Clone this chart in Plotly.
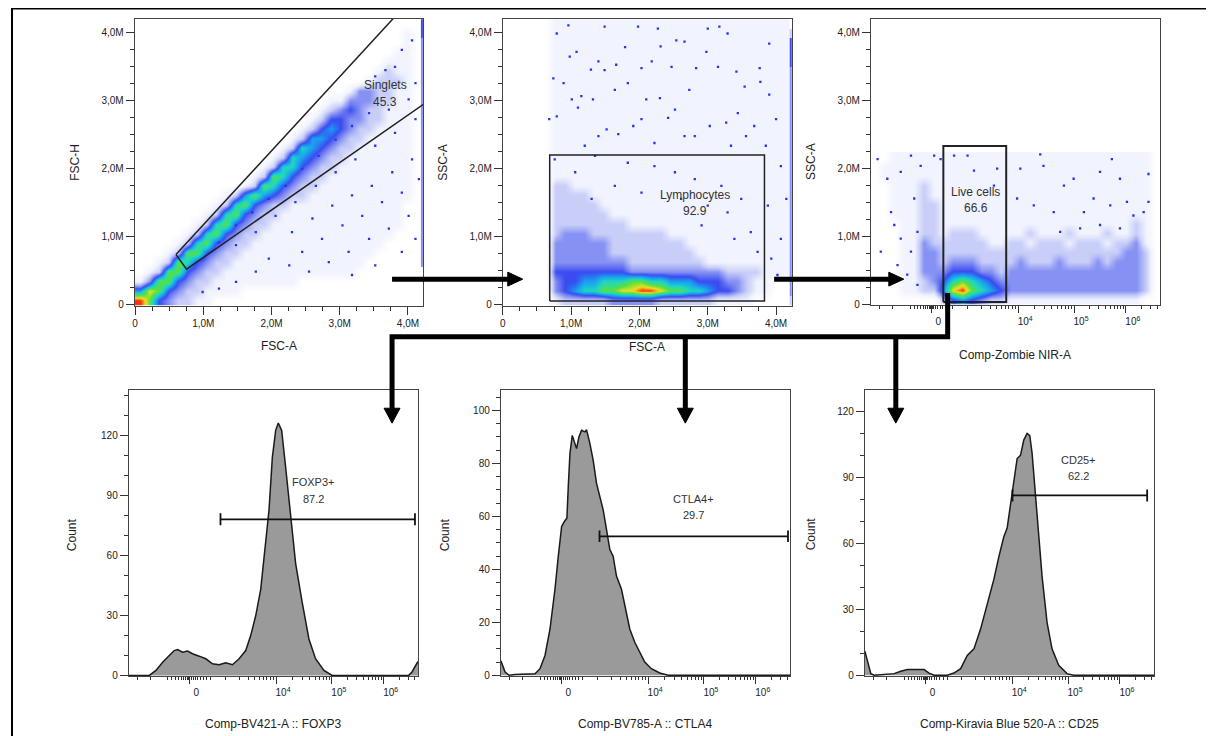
import plotly.graph_objects as go

# the page puts the figure 8px in from the top-left corner of the window
OX, OY = 8, 8
W, H = 1206, 728

# ---- values ----
# pseudocolour dot plots as density grids: one string per row, bottom row first,
# one digit per cell, 0 = no events ... 9 = densest (red)
fsc_rows = [
    "97432211",
    "58743221111",
    "13774322111111111",
    "01277432211111111111111",
    "001276432211111111111111",
    "0001277432211111111111111",
    "00001267432211111111111111",
    "000001267432211111111111111",
    "0000001267432211111111111111",
    "0000000126743221111111111111",
    "0000000012674322111111111111",
    "00000000012575432211111111111",
    "00000000000127643221111111111",
    "00000000000012764322111111111",
    "00000000000001266432211111111",
    "00000000000000126543221111111",
    "00000000000000012654322111111",
    "00000000000000001255432211111",
    "00000000000000000124543221111",
    "00000000000000000012443322111",
    "00000000000000000001234322111",
    "00000000000000000000113332211",
    "00000000000000000000001332211",
    "00000000000000000000000012221",
    "00000000000000000000000001211",
    "00000000000000000000000000111",
    "00000000000000000000000000011",
    "00000000000000000000000000001",
    "00000000000000000000000000001",
    "0",
]
fsc_edge = "000033333333333333333333333344"   # events piled up at the FSC-A maximum
# isolated events in the sparse parts (millions)
fsc_dots_x = [1.48, 1.77, 2.06, 2.35, 2.65, 2.94, 3.23, 3.52, 3.81, 4.11, 2.30, 2.60,
              2.89, 3.18, 3.47, 3.77, 4.06, 2.45, 2.74, 3.04, 3.33, 3.62, 3.91, 4.16,
              1.96, 2.26, 2.55, 2.84, 3.13, 3.43, 3.72, 4.01, 1.77, 1.48, 1.23, 0.99,
              3.18, 3.52, 3.91, 4.11, 3.81, 3.91, 4.06, 3.67, 3.52, 4.01, 4.11, 3.18,
              3.43, 3.72, 2.94, 2.69, 2.45, 2.21, 1.96, 1.72, 1.48, 1.23]
fsc_dots_y = [0.88, 1.07, 1.31, 1.51, 1.75, 1.95, 2.14, 2.34, 2.53, 2.73, 1.07, 1.27,
              1.46, 1.61, 1.75, 1.95, 2.14, 0.78, 0.97, 1.17, 1.31, 1.51, 1.65, 1.85,
              0.68, 0.58, 0.49, 0.63, 0.78, 0.97, 1.12, 1.31, 0.49, 0.34, 0.24, 0.19,
              0.44, 0.58, 0.78, 0.97, 3.50, 3.75, 3.89, 3.45, 3.36, 3.02, 3.26, 2.63,
              2.82, 2.87, 2.43, 2.19, 2.00, 1.75, 1.56, 1.36, 1.17, 0.92]

ssc_rows = [
    "00000122222333332222221111",
    "0000034566778899877665443211",
    "0000034455666776655544433211",
    "000004444444433333333332222111",
    "000003333333322222222111111111",
    "000003333332222222221111111111",
    "000003333332222222211111111111",
    "000002333222222221111111111111",
    "000002222222211111111111111111",
    "000002222221111111111111111111",
    "000002222211111111111111111111",
    "000002222111111111111111111111",
    "000002211111111111111111111111",
] + ["000001111111111111111111111111"] * 17
ssc_edge = "233333333333333333333333344420"
ssc_dots_x = [0.96, 0.79, 1.49, 1.98, 2.27, 3.00, 3.17, 3.29, 3.90, 1.08, 0.98, 1.79,
              2.31, 2.54, 2.66, 2.98, 2.03, 1.49, 1.40, 1.29, 1.66, 2.18, 2.47, 2.83,
              3.15, 3.42, 3.76, 0.74, 0.89, 0.68, 0.79, 1.01, 1.15, 1.10, 1.32, 1.40,
              1.52, 1.69, 1.91, 2.03, 2.10, 2.30, 2.42, 2.52, 2.66, 2.81, 3.03, 3.27,
              3.44, 3.56, 3.77, 3.90, 3.68, 4.00, 4.07, 4.15, 3.93, 4.02, 1.83, 1.64,
              2.73, 3.54, 1.20, 2.22, 3.34, 3.85, 4.07, 3.88, 0.76, 1.06, 1.35, 1.83,
              2.22, 2.52, 2.81, 3.20, 3.49, 3.29, 3.63, 3.00, 2.61, 2.03, 1.64, 1.30,
              2.91, 3.39, 3.73]
ssc_dots_y = [4.11, 3.99, 4.09, 4.09, 4.06, 4.06, 4.09, 3.99, 3.84, 3.72, 3.65, 3.79,
              3.80, 3.89, 3.87, 3.72, 3.48, 3.45, 3.58, 3.46, 3.53, 3.58, 3.50, 3.48,
              3.50, 3.43, 3.48, 3.33, 3.26, 2.73, 2.77, 3.02, 3.07, 2.90, 3.02, 2.48,
              2.58, 2.51, 2.63, 2.73, 3.02, 3.04, 2.75, 2.87, 2.48, 2.48, 2.63, 2.68,
              2.82, 2.48, 3.28, 3.09, 2.63, 2.73, 0.97, 1.56, 0.68, 0.44, 3.26, 3.16,
              3.16, 3.21, 2.34, 2.38, 2.34, 2.34, 2.04, 1.46, 2.14, 1.95, 2.19, 2.09,
              2.04, 1.95, 1.85, 1.75, 1.56, 1.36, 1.07, 1.46, 1.56, 1.65, 1.75, 1.56,
              1.17, 0.97, 0.78]

live_rows = [
    "000000024543221111111111111100",
    "000112258976543333333333333320",
    "000112346765433333333333333320",
    "000113334443323333333333333320",
    "000113323332222322232223233320",
    "000113322222222222222222223320",
    "000113222222112212221222122310",
    "000112212221111121112111211210",
    "000112211111111111111111111210",
    "001112211111111111111111111110",
    "001112211111111111111111111110",
    "001112111111111111111111111110",
    "001112111111111111111111111110",
    "011111111111111111111111111110",
    "011111111111111111111111111110",
    "001111111111111111111111111110",
]
live_dots_x = [1.39, 1.57, 1.82, 2.01, 2.07, 1.70, 1.45, 1.76, 1.94, 2.13, 1.82, 1.64,
               2.19, 2.44, 2.56, 2.13, 2.01, 2.81, 3.06, 3.18, 3.61, 3.55, 4.04, 4.41,
               4.47, 4.85, 5.03, 5.52, 5.74, 5.89, 6.42, 6.42, 5.40, 5.71, 4.29, 4.66,
               5.22, 3.98, 6.02, 6.14, 6.33, 4.78, 5.15, 5.52, 5.89]
live_dots_y = [2.14, 1.85, 1.95, 2.19, 1.56, 1.17, 0.78, 0.58, 0.44, 0.29, 0.97, 1.36,
               2.04, 2.19, 2.14, 1.07, 0.78, 2.19, 2.19, 1.97, 2.00, 1.75, 2.00, 2.21,
               2.04, 1.75, 1.85, 1.95, 2.14, 1.85, 1.92, 1.51, 1.56, 1.46, 1.46, 1.36,
               1.36, 1.56, 1.51, 1.31, 1.36, 1.07, 1.12, 1.17, 1.12]

# gates (FSC/SSC in events, biex axes in display decades)
singlet_x = [0.60e6, 4.5e6, 4.5e6, 0.755e6, 0.60e6]
singlet_y = [0.74e6, 4.99e6, 3.14e6, 0.525e6, 0.74e6]
lymph_x = [0.687e6, 3.83e6, 3.83e6, 0.687e6, 0.687e6]
lymph_y = [0.058e6, 0.058e6, 2.204e6, 2.204e6, 0.058e6]
live_x = [2.611, 3.778, 3.778, 2.611, 2.611]
live_y = [0.04e6, 0.04e6, 2.33e6, 2.33e6, 0.04e6]

# histograms: x in display decades of the biex axis, y = count
foxp3_x = [1.265, 1.648, 1.771, 1.895, 2.018, 2.11, 2.172, 2.265, 2.358, 2.45, 2.574,
           2.697, 2.821, 2.944, 3.067, 3.191, 3.314, 3.438, 3.53, 3.623, 3.716, 3.808,
           3.87, 3.932, 3.994, 4.043, 4.105, 4.179, 4.271, 4.364, 4.487, 4.611, 4.734,
           4.889, 5.043, 6.463, 6.525, 6.617, 6.636]
foxp3_y = [0, 0, 2.5, 6.6, 9.9, 12.4, 12.9, 11.6, 12.2, 10.8, 9.6, 8.3, 5.8, 5.3, 6.3,
           5.3, 8.3, 12.4, 19.9, 29.8, 43.0, 66.2, 82.7, 109, 122.5, 126.2, 122.5, 104,
           79, 56, 36.4, 18.2, 8.3, 2.5, 0, 0, 1.7, 6.3, 7.0]
ctla4_x = [1.265, 1.271, 1.345, 1.419, 1.53, 1.901, 1.993, 2.086, 2.179, 2.271, 2.333,
           2.395, 2.444, 2.493, 2.518, 2.549, 2.592, 2.629, 2.672, 2.716, 2.765, 2.827,
           2.858, 2.92, 2.981, 3.043, 3.105, 3.166, 3.228, 3.29, 3.351, 3.413, 3.506,
           3.58, 3.66, 3.753, 3.845, 3.938, 4.061, 4.216, 4.37, 6.636]
ctla4_y = [5.5, 5.25, 1.25, 0, 0.3, 0.6, 2.5, 7.5, 17.5, 32.5, 45, 56.2, 58, 59.4, 71.2,
           83.7, 90.6, 88.1, 85.6, 90, 92.5, 91.9, 92.7, 87.5, 81.2, 72.5, 66.9, 62.5,
           55, 47.5, 45, 37.5, 32.5, 25, 17.5, 12.5, 8.75, 5, 2.5, 0.9, 0, 0]
cd25_x = [1.265, 1.271, 1.327, 1.376, 1.438, 1.808, 1.932, 2.055, 2.364, 2.456, 2.55,
          2.796, 2.919, 3.043, 3.166, 3.29, 3.413, 3.537, 3.66, 3.753, 3.845, 3.907,
          3.969, 4.03, 4.092, 4.154, 4.215, 4.277, 4.327, 4.37, 4.432, 4.493, 4.555,
          4.648, 4.74, 4.864, 5.018, 5.14, 6.636]
cd25_y = [11, 10.5, 6, 0.75, 0, 0.75, 1.8, 2.6, 2.6, 1.0, 0, 0, 1, 3, 9, 12, 21, 33,
          43.6, 54, 63, 67, 78, 90, 98.6, 100, 107, 110, 109, 101, 83, 65, 45, 24, 12,
          4.5, 0.75, 0, 0]

# range gates on the histograms: (start, end, count level)
foxp3_gate = (2.969, 6.58, 78)
ctla4_gate = (3.098, 6.598, 52.5)
cd25_gate = (4.006, 6.506, 81.8)

# ---- styling ----
FONT = "Liberation Sans, Arial, sans-serif"
LEVELS = ['#ffffff', '#f1f3fe', '#c8cef8', '#8591f3', '#3a4cf0',
          '#1aa0f0', '#20d8c0', '#58e040', '#f0e020', '#ff3010']
CSCALE = [[i / 9, c] for i, c in enumerate(LEVELS)]
TICKFONT = dict(family=FONT, size=10, color='#222')
DOT = dict(size=2.3, color='#2435f0', symbol='square', line=dict(width=0))


def grid(rows, n=30):
    return [[int(ch) for ch in r.ljust(n, '0')[:n]] for r in rows]


def dom_x(a, b):
    return [(a - OX) / W, (b - OX) / W]


def dom_y(top, bottom):
    return [1 - (bottom - OY) / H, 1 - (top - OY) / H]


M_TICKS = [0, 1e6, 2e6, 3e6, 4e6]
M_TEXT = ['0', '1,0M', '2,0M', '3,0M', '4,0M']
M_MINOR = [k * 0.25e6 for k in range(17)]

BIEX_MAJOR = [2.389, 4.0, 5.037, 6.0]
BIEX_TEXT = ['0', '10<sup>4</sup>', '10<sup>5</sup>', '10<sup>6</sup>']
BIEX_MINOR = [1.42, 1.667, 1.994, 2.068, 2.13, 2.191, 2.241, 2.284, 2.321, 2.352, 2.377,
              2.401, 2.426, 2.463, 2.506, 2.549, 2.599, 2.654, 2.716, 2.79, 3.056, 3.321,
              3.488, 3.599, 3.685, 3.759, 3.827, 3.889, 3.951,
              4.312, 4.495, 4.624, 4.725, 4.807, 4.876, 4.937, 4.99,
              5.327, 5.496, 5.617, 5.71, 5.786, 5.851, 5.907, 5.956,
              6.29, 6.459, 6.58]


def frame(domain, anchor, rng):
    return dict(domain=domain, anchor=anchor, range=rng, showline=True, linecolor='#444',
                linewidth=1, mirror=True, showgrid=False, zeroline=False,
                ticks='outside', ticklen=8, tickwidth=1, tickcolor='#333',
                tickfont=TICKFONT, fixedrange=True)


def m_axis(domain, anchor, rng):
    ax = frame(domain, anchor, rng)
    ax.update(tickmode='array', tickvals=M_TICKS, ticktext=M_TEXT,
              minor=dict(tickmode='array', tickvals=M_MINOR, ticks='outside',
                         ticklen=4, tickwidth=1, tickcolor='#333', showgrid=False))
    return ax


def biex_axis(domain, anchor):
    ax = frame(domain, anchor, [1.265, 6.636])
    ax.update(tickmode='array', tickvals=BIEX_MAJOR, ticktext=BIEX_TEXT, ticklen=7,
              ticklabelshift=7,
              minor=dict(tickmode='array', tickvals=BIEX_MINOR, ticks='outside',
                         ticklen=3, tickwidth=1, tickcolor='#333', showgrid=False))
    return ax


def count_axis(domain, anchor, rng, step, minor_step):
    ax = frame(domain, anchor, rng)
    top = int(rng[1])
    ax.update(tickmode='array', tickvals=list(range(0, top + 1, step)),
              minor=dict(tickmode='array', tickvals=list(range(0, top + 1, minor_step)),
                         ticks='outside', ticklen=4, tickwidth=1, tickcolor='#333',
                         showgrid=False))
    return ax


def density(rows, xa, ya, x0, dx):
    return go.Heatmap(z=grid(rows), x0=x0, dx=dx, y0=0.07e6, dy=0.14e6, zmin=0, zmax=9,
                      colorscale=CSCALE, showscale=False, zsmooth='best',
                      hoverinfo='skip', xaxis=xa, yaxis=ya)


def edge(levels, xa, ya, x0):
    return go.Heatmap(z=[[int(c)] for c in levels], x0=x0, dx=0.03e6, y0=0.07e6,
                      dy=0.14e6, zmin=0, zmax=9, colorscale=CSCALE, showscale=False,
                      hoverinfo='skip', xaxis=xa, yaxis=ya)


def dots(xs, ys, xa, ya, xscale=1e6):
    return go.Scatter(x=[v * xscale for v in xs], y=[v * 1e6 for v in ys], mode='markers',
                      marker=DOT, hoverinfo='skip', xaxis=xa, yaxis=ya)


def gate(xs, ys, xa, ya, width=1.5):
    return go.Scatter(x=xs, y=ys, mode='lines', line=dict(color='#222', width=width),
                      hoverinfo='skip', xaxis=xa, yaxis=ya)


fig = go.Figure()

# ---- dot plots ----
fig.add_trace(density(fsc_rows, 'x', 'y', 0.07e6, 0.14e6))
fig.add_trace(edge(fsc_edge, 'x', 'y', 4.205e6))
fig.add_trace(dots(fsc_dots_x, fsc_dots_y, 'x', 'y'))
fig.add_trace(gate(singlet_x, singlet_y, 'x', 'y'))

fig.add_trace(density(ssc_rows, 'x2', 'y2', 0.07e6, 0.14e6))
fig.add_trace(edge(ssc_edge, 'x2', 'y2', 4.215e6))
fig.add_trace(dots(ssc_dots_x, ssc_dots_y, 'x2', 'y2'))
fig.add_trace(gate(lymph_x, lymph_y, 'x2', 'y2'))

du = (6.636 - 1.265) / 30
fig.add_trace(density(live_rows, 'x3', 'y3', 1.265 + du / 2, du))
fig.add_trace(dots(live_dots_x, live_dots_y, 'x3', 'y3', xscale=1))
fig.add_trace(gate(live_x, live_y, 'x3', 'y3', 2))

# ---- histograms ----
hists = [(foxp3_x, foxp3_y, foxp3_gate, 3.0, 'x4', 'y4'),
         (ctla4_x, ctla4_y, ctla4_gate, 2.2, 'x5', 'y5'),
         (cd25_x, cd25_y, cd25_gate, 2.7, 'x6', 'y6')]
for hx, hy, (g0, g1, gy), cap, xa, ya in hists:
    fig.add_trace(go.Scatter(x=hx, y=hy, mode='lines', fill='tozeroy',
                             fillcolor='#9a9a9a', line=dict(color='#1a1a1a', width=1.5),
                             hoverinfo='skip', xaxis=xa, yaxis=ya))
    fig.add_trace(go.Scatter(x=[g0, g0, None, g0, g1, None, g1, g1],
                             y=[gy - cap, gy + cap, None, gy, gy, None, gy - cap, gy + cap],
                             mode='lines', line=dict(color='#111', width=1.8),
                             hoverinfo='skip', xaxis=xa, yaxis=ya))

# ---- annotations ----
notes = []


def note(text, x, y, xref, yref, size=12, angle=0, color='#333'):
    notes.append(dict(text=text, x=x, y=y, xref=xref, yref=yref, showarrow=False,
                      textangle=angle, xanchor='center', yanchor='middle',
                      font=dict(family=FONT, size=size, color=color)))


note('Singlets', 3.665e6, 3.226e6, 'x', 'y')
note('45.3', 3.665e6, 2.978e6, 'x', 'y')
note('Lymphocytes', 2.807e6, 1.62e6, 'x2', 'y2')
note('92.9', 2.807e6, 1.387e6, 'x2', 'y2')
note('Live cells', 3.209, 1.66e6, 'x3', 'y3')
note('66.6', 3.209, 1.426e6, 'x3', 'y3')
note('FOXP3+', 4.69, 96.8, 'x4', 'y4', 11)
note('87.2', 4.69, 88.4, 'x4', 'y4', 11)
note('CTLA4+', 4.839, 66.7, 'x5', 'y5', 11)
note('29.7', 4.839, 60.4, 'x5', 'y5', 11)
note('CD25+', 5.228, 98, 'x6', 'y6', 11)
note('62.2', 5.228, 90.8, 'x6', 'y6', 11)

titles = [('FSC-A', 277, 348, 0), ('FSC-H', 72, 163, -90),
          ('FSC-A', 646, 349, 0), ('SSC-A', 441, 163, -90),
          ('Comp-Zombie NIR-A', 1015, 357, 0), ('SSC-A', 810, 163, -90),
          ('Comp-BV421-A :: FOXP3', 271, 729, 0), ('Count', 70, 538, -90),
          ('Comp-BV785-A :: CTLA4', 644, 729, 0), ('Count', 443, 538, -90),
          ('Comp-Kiravia Blue 520-A :: CD25', 1009, 729, 0), ('Count', 810, 538, -90)]
for t, x, y, a in titles:
    note(t, (x - OX) / W, 1 - (y - OY) / H, 'paper', 'paper', 12, a, '#222')


# ---- arrows and frame ----
def P(x, y):
    return f"{(x - OX) / W:.5f},{1 - (y - OY) / H:.5f}"


shapes = [dict(type='rect', xref='paper', yref='paper', x0=1 / W, y0=-0.05,
               x1=1.05, y1=1 - 0.5 / H, line=dict(color='#000', width=2))]
bars = [[(390, 281), (508, 281)], [(773, 281), (890, 281)],
        [(947, 295), (947, 339), (390, 339), (390, 413)],
        [(684, 339), (684, 413)], [(895, 339), (895, 413)]]
for b in bars:
    path = 'M ' + ' L '.join(P(x, y) for x, y in b)
    shapes.append(dict(type='path', xref='paper', yref='paper', path=path,
                       line=dict(color='#000', width=5)))
heads = [[(506, 274), (521, 281), (506, 288)], [(888, 274), (903, 281), (888, 288)],
         [(382, 411), (390, 426), (398, 411)], [(676, 411), (684, 426), (692, 411)],
         [(887, 411), (895, 426), (903, 411)]]
for h in heads:
    path = 'M ' + ' L '.join(P(x, y) for x, y in h) + ' Z'
    shapes.append(dict(type='path', xref='paper', yref='paper', path=path,
                       fillcolor='#000', line=dict(color='#000', width=1)))

fig.update_layout(
    width=W, height=H, autosize=False, margin=dict(l=0, r=0, t=0, b=0),
    paper_bgcolor='white', plot_bgcolor='white', showlegend=False,
    font=dict(family=FONT, size=10, color='#222'),
    xaxis=m_axis(dom_x(132, 421), 'y', [-0.005e6, 4.22e6]),
    yaxis=m_axis(dom_y(19, 308), 'x', [-0.015e6, 4.204e6]),
    xaxis2=m_axis(dom_x(501, 791), 'y2', [0, 4.234e6]),
    yaxis2=m_axis(dom_y(19, 308), 'x2', [-0.015e6, 4.204e6]),
    xaxis3=biex_axis(dom_x(870, 1160), 'y3'),
    yaxis3=m_axis(dom_y(19, 307), 'x3', [-0.005e6, 4.2e6]),
    xaxis4=biex_axis(dom_x(126, 416), 'y4'),
    yaxis4=count_axis(dom_y(393, 681), 'x4', [-0.5, 142.5], 30, 10),
    xaxis5=biex_axis(dom_x(499, 789), 'y5'),
    yaxis5=count_axis(dom_y(393, 681), 'x5', [-0.4, 107.6], 20, 5),
    xaxis6=biex_axis(dom_x(864, 1154), 'y6'),
    yaxis6=count_axis(dom_y(393, 681), 'x6', [-0.5, 129.6], 30, 10),
    annotations=notes, shapes=shapes,
)

fig.write_html("out.html")
